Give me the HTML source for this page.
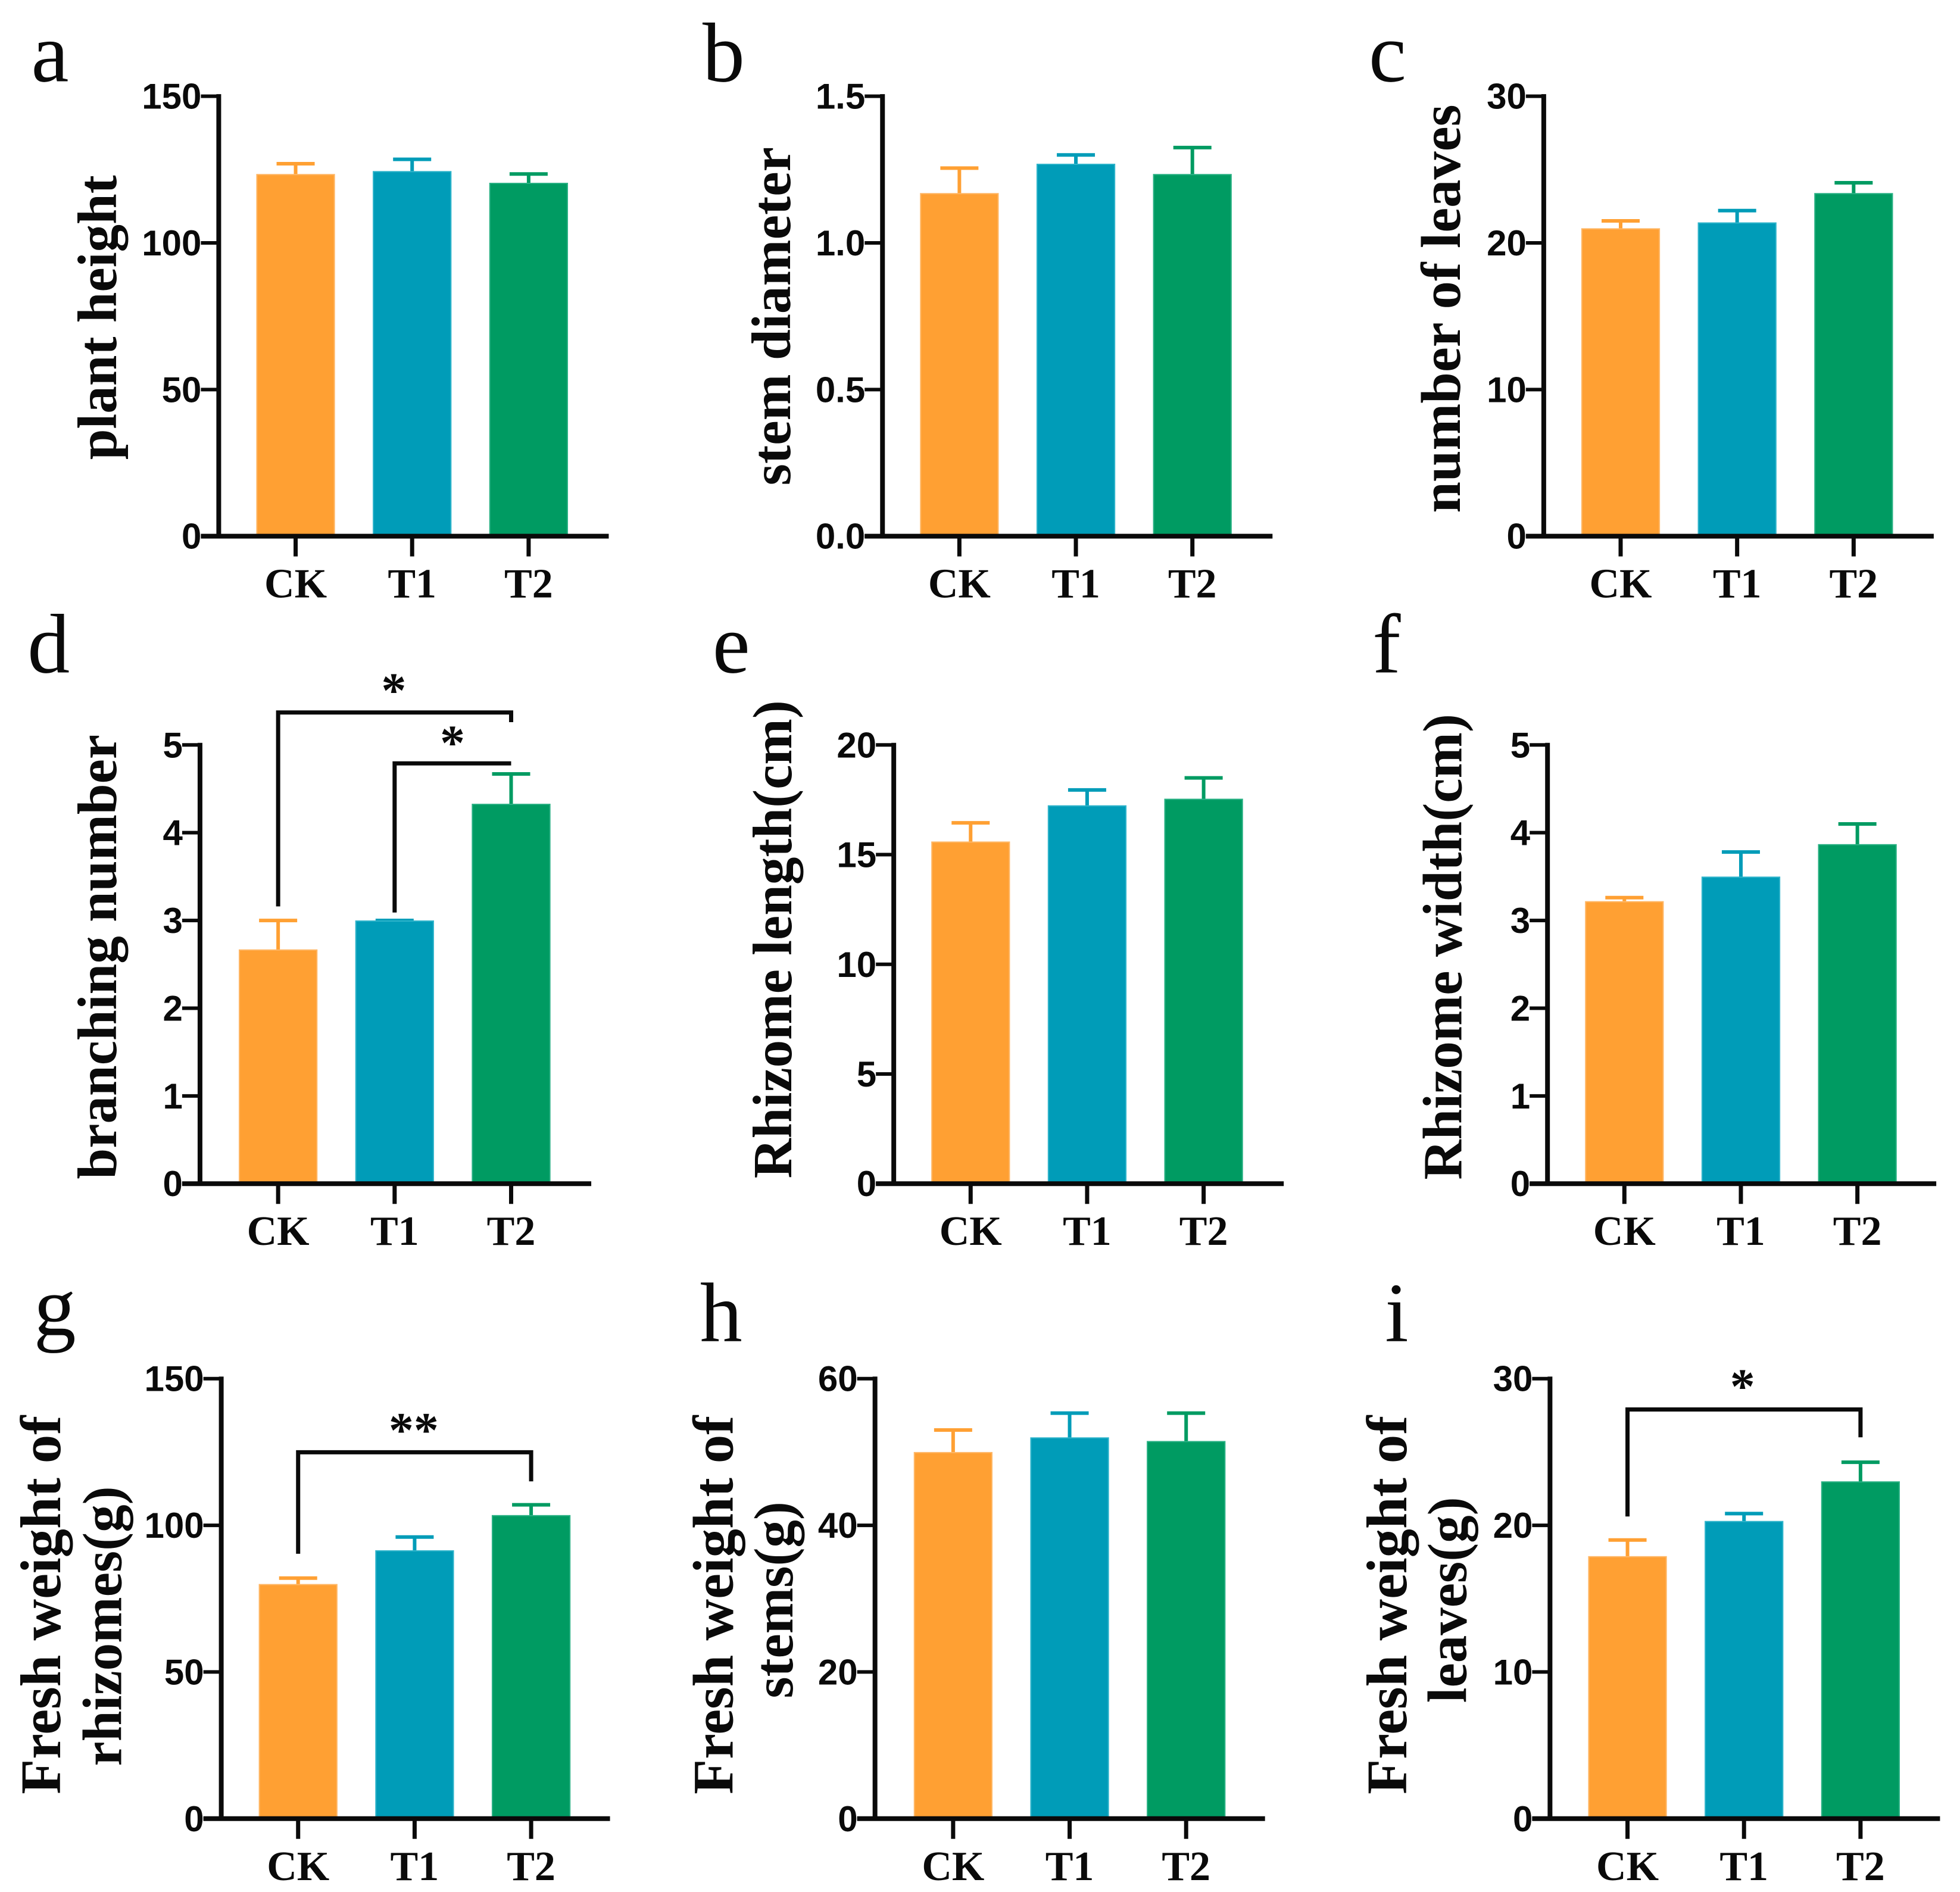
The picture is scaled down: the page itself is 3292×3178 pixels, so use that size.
<!DOCTYPE html>
<html lang="en">
<head>
<meta charset="utf-8">
<title>Growth indicators</title>
<style>
html,body{margin:0;padding:0;background:#fff;width:3292px;height:3178px;overflow:hidden}
svg{display:block}
.tick{font-family:"Liberation Sans",sans-serif;font-weight:700;font-size:60px;fill:#0a0a0a;text-anchor:end}
.cat{font-family:"Liberation Serif",serif;font-weight:700;font-size:70px;fill:#0a0a0a;text-anchor:middle}
.title{font-family:"Liberation Serif",serif;font-weight:700;fill:#0a0a0a;text-anchor:middle}
.letter{font-family:"Liberation Serif",serif;font-weight:400;font-size:142px;fill:#0a0a0a}
.star{font-family:"Liberation Serif",serif;font-weight:700;font-size:84px;fill:#0a0a0a;text-anchor:middle}
</style>
</head>
<body>
<svg id="fig" xmlns="http://www.w3.org/2000/svg" width="3292" height="3178" viewBox="0 0 3292 3178"></svg>
<script>
const categories = ['CK', 'T1', 'T2'];

const plantHeightValues = [123.5, 124.5, 120.5];
const plantHeightErrorTops = [127, 128.5, 123.5];
const plantHeightTicks = ['0', '50', '100', '150'];

const stemDiameterValues = [1.17, 1.27, 1.235];
const stemDiameterErrorTops = [1.255, 1.30, 1.325];
const stemDiameterTicks = ['0.0', '0.5', '1.0', '1.5'];

const leafCountValues = [21, 21.4, 23.4];
const leafCountErrorTops = [21.5, 22.2, 24.1];
const leafCountTicks = ['0', '10', '20', '30'];

const branchingValues = [2.67, 3, 4.33];
const branchingErrorTops = [3, 3, 4.67];
const branchingTicks = ['0', '1', '2', '3', '4', '5'];

const rhizomeLengthValues = [15.6, 17.25, 17.55];
const rhizomeLengthErrorTops = [16.45, 17.95, 18.5];
const rhizomeLengthTicks = ['0', '5', '10', '15', '20'];

const rhizomeWidthValues = [3.22, 3.5, 3.87];
const rhizomeWidthErrorTops = [3.26, 3.78, 4.1];
const rhizomeWidthTicks = ['0', '1', '2', '3', '4', '5'];

const rhizomeWeightValues = [80, 91.5, 103.5];
const rhizomeWeightErrorTops = [82, 96, 107];
const rhizomeWeightTicks = ['0', '50', '100', '150'];

const stemWeightValues = [50, 52, 51.5];
const stemWeightErrorTops = [53, 55.3, 55.3];
const stemWeightTicks = ['0', '20', '40', '60'];

const leafWeightValues = [17.9, 20.3, 23];
const leafWeightErrorTops = [19, 20.8, 24.3];
const leafWeightTicks = ['0', '10', '20', '30'];

const barColors = ['#FFA033', '#009CB8', '#009B62'];
const barEdges = ['#FFB766', '#2FB4CB', '#2AB184'];

const S = 2.0995;
const NS = 'http://www.w3.org/2000/svg';
const fig = document.getElementById('fig');

function mk(tag, attrs, parent, text) {
  const el = document.createElementNS(NS, tag);
  for (const k in attrs) el.setAttribute(k, attrs[k]);
  if (text !== undefined) el.textContent = text;
  parent.appendChild(el);
  return el;
}

const panels = [
  {id:'a', letter:'a', lx:25, ly:65, axisX:175, right:487, c0:236.5, top:77, bottom:429, max:150, values:plantHeightValues, errs:plantHeightErrorTops, ticks:plantHeightTicks,
   titles:[{t:'plant height', x:93, y:254, fs:93}], brackets:[]},
  {id:'b', letter:'b', lx:562, ly:65, axisX:706, right:1018, c0:767.5, top:77, bottom:429, max:1.5, values:stemDiameterValues, errs:stemDiameterErrorTops, ticks:stemDiameterTicks,
   titles:[{t:'stem diameter', x:632, y:253, fs:93.5}], brackets:[]},
  {id:'c', letter:'c', lx:1095, ly:65, axisX:1235, right:1547, c0:1296.5, top:77, bottom:429, max:30, values:leafCountValues, errs:leafCountErrorTops, ticks:leafCountTicks,
   titles:[{t:'number of leaves', x:1168, y:247, fs:94.5}], brackets:[]},
  {id:'d', letter:'d', lx:22, ly:538, axisX:160, right:473, c0:222.5, top:596, bottom:947, max:5, values:branchingValues, errs:branchingErrorTops, ticks:branchingTicks,
   titles:[{t:'branching number', x:93, y:765.5, fs:93}],
   brackets:[{from:0, to:2, level:5.37, fromEnd:3.16, toEnd:5.26, label:'*', lx:315, ly:565.5},
             {from:1, to:2, level:4.79, fromEnd:3.09, toEnd:4.79, label:'*', lx:362, ly:607.5}]},
  {id:'e', letter:'e', lx:570, ly:538, axisX:715, right:1027, c0:776.5, top:596, bottom:947, max:20, values:rhizomeLengthValues, errs:rhizomeLengthErrorTops, ticks:rhizomeLengthTicks,
   titles:[{t:'Rhizome length(cm)', x:633, y:751.5, fs:93}], brackets:[]},
  {id:'f', letter:'f', lx:1098, ly:538, axisX:1238, right:1549, c0:1299.5, top:596, bottom:947, max:5, values:rhizomeWidthValues, errs:rhizomeWidthErrorTops, ticks:rhizomeWidthTicks,
   titles:[{t:'Rhizome width(cm)', x:1169, y:757.5, fs:93}], brackets:[]},
  {id:'g', letter:'g', lx:27, ly:1068, axisX:177, right:488, c0:238.5, top:1103, bottom:1455, max:150, values:rhizomeWeightValues, errs:rhizomeWeightErrorTops, ticks:rhizomeWeightTicks,
   titles:[{t:'Fresh weight of', x:48, y:1284, fs:96.5}, {t:'rhizomes(g)', x:97, y:1301, fs:93}],
   brackets:[{from:0, to:2, level:124.9, fromEnd:90.3, toEnd:115, label:'**', lx:331, ly:1157.5}]},
  {id:'h', letter:'h', lx:560, ly:1073, axisX:700, right:1012, c0:762.5, top:1103, bottom:1455, max:60, values:stemWeightValues, errs:stemWeightErrorTops, ticks:stemWeightTicks,
   titles:[{t:'Fresh weight of', x:586, y:1284, fs:96.5}, {t:'stems(g)', x:634, y:1280, fs:93}], brackets:[]},
  {id:'i', letter:'i', lx:1108, ly:1073, axisX:1240, right:1552, c0:1302, top:1103, bottom:1455, max:30, values:leafWeightValues, errs:leafWeightErrorTops, ticks:leafWeightTicks,
   titles:[{t:'Fresh weight of', x:1125, y:1284, fs:96.5}, {t:'leaves(g)', x:1173, y:1280, fs:93}],
   brackets:[{from:0, to:2, level:27.9, fromEnd:20.6, toEnd:26, label:'*', lx:1394, ly:1122.5}]}
];

const STEP = 93.2 * S, BAR_W = 63 * S - 2, CAP_W = 64, AXIS_W = 8, ERR_W = 6;

panels.forEach(function (p) {
  const g = mk('g', {}, fig);
  
  

  const top = p.top * S, bottom = p.bottom * S, axisX = p.axisX * S, right = p.right * S;
  const yScale = function (v) { return bottom - (v / p.max) * (bottom - top); };
  const xScale = function (i) { return p.c0 * S + i * STEP; };

  const letter = mk('text', {x: p.lx * S, y: p.ly * S, class: 'letter'}, g, p.letter);
  
  

  p.titles.forEach(function (tt, idx) {
    const tx = tt.x * S, ty = tt.y * S;
    const title = mk('text', {x: tx, y: ty, class: 'title', 'font-size': tt.fs, transform: 'rotate(-90 ' + tx + ' ' + ty + ')'}, g, tt.t);
    
    
  });

  categories.forEach(function (cat, i) {
    const cx = xScale(i), yv = yScale(p.values[i]) + 1, ye = yScale(p.errs[i]);

    const stem = mk('line', {x1: cx, x2: cx, y1: ye, y2: yv, stroke: barColors[i], 'stroke-width': ERR_W}, g);
    
    

    const cap = mk('line', {x1: cx - CAP_W / 2, x2: cx + CAP_W / 2, y1: ye, y2: ye, stroke: barColors[i], 'stroke-width': ERR_W}, g);
    
    

    const bar = mk('rect', {x: cx - BAR_W / 2, y: yv, width: BAR_W, height: bottom - yv, fill: barColors[i], stroke: barEdges[i], 'stroke-width': 2}, g);
    
    

    const tick = mk('line', {x1: cx, x2: cx, y1: bottom, y2: bottom + 34, stroke: '#0a0a0a', 'stroke-width': 7}, g);
    
    

    const label = mk('text', {x: cx, y: bottom + 103, class: 'cat'}, g, cat);
    
    
  });

  const yAxis = mk('line', {x1: axisX, x2: axisX, y1: top - 3.5, y2: bottom, stroke: '#0a0a0a', 'stroke-width': AXIS_W}, g);
  
  

  const xAxis = mk('line', {x1: axisX - 30, x2: right, y1: bottom, y2: bottom, stroke: '#0a0a0a', 'stroke-width': AXIS_W}, g);
  
  

  p.ticks.forEach(function (lab) {
    const v = parseFloat(lab), ty = yScale(v);
    const tick = mk('line', {x1: axisX - 30, x2: axisX, y1: ty, y2: ty, stroke: '#0a0a0a', 'stroke-width': 6}, g);
    
    

    const text = mk('text', {x: axisX - 29, y: ty + 21, class: 'tick'}, g, lab);
    
    
  });

  p.brackets.forEach(function (b, idx) {
    const x1 = xScale(b.from), x2 = xScale(b.to);
    const d = 'M' + x1 + ' ' + yScale(b.fromEnd) + 'V' + yScale(b.level) + 'H' + x2 + 'V' + yScale(b.toEnd);
    const path = mk('path', {d: d, fill: 'none', stroke: '#0a0a0a', 'stroke-width': 7}, g);
    
    

    const star = mk('text', {x: b.lx * S, y: b.ly * S, class: 'star'}, g, b.label);
    
    
  });
});
</script>
</body>
</html>
